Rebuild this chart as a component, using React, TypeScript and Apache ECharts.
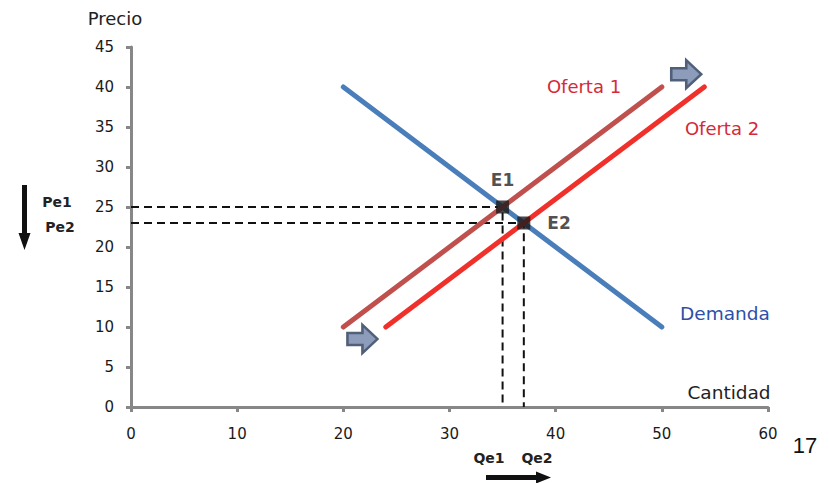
import React, { useEffect, useRef } from "react";
import * as echarts from "echarts";

// Market lines: endpoints as [cantidad, precio]
const demanda: number[][] = [[20, 40], [50, 10]];
const oferta1: number[][] = [[20, 10], [50, 40]];
const oferta2: number[][] = [[24, 10], [54, 40]];

// Equilibrium points
const e1: number[] = [35, 25];
const e2: number[] = [37, 23];

// Guides from each equilibrium to the axes
const guideE1: number[][] = [[0, 25], [35, 25], [35, 0]];
const guideE2: number[][] = [[0, 23], [37, 23], [37, 0]];

// Shift arrows (centre in data units)
const shiftArrows: number[][] = [[21.8, 8.5], [52.3, 41.6]];

const xTicks = { min: 0, max: 60, interval: 10 };
const yTicks = { min: 0, max: 45, interval: 5 };

const FONT = "'DejaVu Sans', 'Liberation Sans', sans-serif";
const AXIS_GRAY = "#878787";

const arrowPath = "path://M0,8 L15,8 L15,0 L30,14 L15,28 L15,20 L0,20 Z";

const label = (
  text: string,
  x: number,
  y: number,
  fontSize: number,
  fill: string,
  bold = false,
  fontFamily = FONT
) => ({
  type: "text",
  x,
  y,
  style: {
    text,
    fontSize,
    fontFamily,
    fontWeight: bold ? "bold" : "normal",
    fill,
    align: "center",
    verticalAlign: "middle",
  },
});

export default function App() {
  const ref = useRef<HTMLDivElement>(null);

  useEffect(() => {
    document.body.style.margin = "0";
    if (!ref.current) return;
    const chart = echarts.init(ref.current, undefined, { renderer: "svg" });

    const lineSeries = (name: string, data: number[][], color: string, width: number, extra: any = {}) => ({
      name,
      type: "line",
      data,
      symbol: "none",
      silent: true,
      lineStyle: { color, width, cap: "round", ...(extra.lineStyle || {}) },
      z: extra.z ?? 3,
      ...(extra.rest || {}),
    });

    chart.setOption({
      animation: false,
      backgroundColor: "#ffffff",
      grid: { left: 131, right: 61, top: 47, bottom: 76, containLabel: false },
      xAxis: {
        type: "value",
        min: xTicks.min,
        max: xTicks.max,
        interval: xTicks.interval,
        splitLine: { show: false },
        axisLine: { show: true, onZero: false, lineStyle: { color: AXIS_GRAY, width: 3 } },
        axisTick: { show: true, length: 5, lineStyle: { color: AXIS_GRAY, width: 3 } },
        axisLabel: { color: "#1a1a1a", fontSize: 15, fontFamily: FONT, margin: 19 },
      },
      yAxis: {
        type: "value",
        min: yTicks.min,
        max: yTicks.max,
        interval: yTicks.interval,
        splitLine: { show: false },
        axisLine: { show: true, onZero: false, lineStyle: { color: AXIS_GRAY, width: 3 } },
        axisTick: { show: true, length: 5, lineStyle: { color: AXIS_GRAY, width: 3 } },
        axisLabel: { color: "#1a1a1a", fontSize: 15, fontFamily: FONT, margin: 17 },
      },
      series: [
        lineSeries("guideE1", guideE1, "#111", 2, { lineStyle: { type: [8, 5], cap: "butt" }, z: 2 }),
        lineSeries("guideE2", guideE2, "#111", 2, { lineStyle: { type: [8, 5], cap: "butt" }, z: 2 }),
        lineSeries("Demanda", demanda, "#4a7ebb", 5),
        lineSeries("Oferta 1", oferta1, "#c0504d", 5),
        lineSeries("Oferta 2", oferta2, "#f0302a", 5, {
          rest: {
            markPoint: {
              silent: true,
              symbol: arrowPath,
              symbolSize: [30, 28],
              itemStyle: { color: "#8c9cba", borderColor: "#4f6078", borderWidth: 2.5 },
              label: { show: false },
              data: shiftArrows.map((c) => ({ coord: c })),
            },
          },
        }),
        {
          type: "scatter",
          silent: true,
          symbol: "rect",
          symbolSize: 13,
          itemStyle: { color: "#1a1a1a" },
          z: 5,
          data: [
            {
              value: e1,
              label: { show: true, formatter: "E1", position: "top", distance: 12 },
            },
            {
              value: e2,
              label: { show: true, formatter: "E2", position: "right", distance: 17 },
            },
          ],
          label: { color: "#222", fontSize: 17, fontWeight: "bold", fontFamily: FONT },
        },
      ],
      graphic: [
        label("Precio", 115, 18, 18, "#222"),
        label("Cantidad", 729, 392, 18.5, "#222"),
        label("Oferta 1", 584, 86, 18, "#d42a3a"),
        label("Oferta 2", 722, 128, 18, "#d42a3a"),
        label("Demanda", 725, 313, 18.5, "#2d50a8"),
        label("Pe1", 57, 202, 14, "#222", true),
        label("Pe2", 60, 227, 14, "#222", true),
        label("Qe1", 489, 458, 14, "#222", true),
        label("Qe2", 537, 458, 14, "#222", true),
        label("17", 805, 445, 22, "#111", false, "'Liberation Sans', Arial, sans-serif"),
        // price falls: down arrow
        { type: "rect", shape: { x: 22, y: 185, width: 5, height: 52 }, style: { fill: "#111" } },
        { type: "polygon", shape: { points: [[18.5, 233], [30.5, 233], [24.5, 250]] }, style: { fill: "#111" } },
        // quantity rises: right arrow
        { type: "rect", shape: { x: 486, y: 475, width: 52, height: 5 }, style: { fill: "#111" } },
        { type: "polygon", shape: { points: [[536, 471.5], [536, 483.5], [551, 477.5]] }, style: { fill: "#111" } },
      ],
    });

    return () => chart.dispose();
  }, []);

  return <div ref={ref} style={{ width: 829, height: 483 }} />;
}
